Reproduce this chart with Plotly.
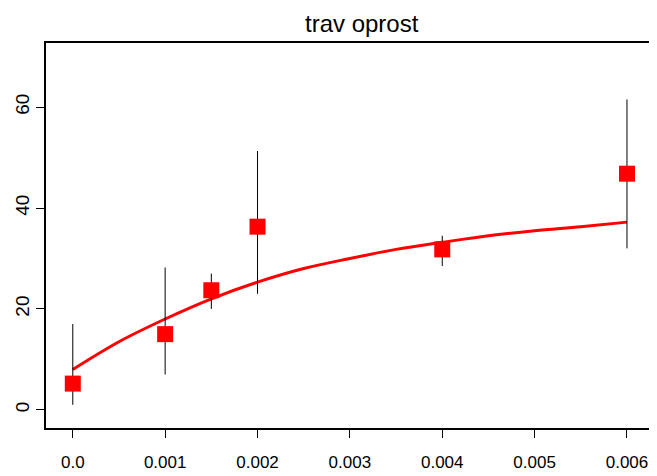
import plotly.graph_objects as go

dose = [0.0, 0.001, 0.0015, 0.002, 0.004, 0.006]
resp = [5.2, 15.0, 23.7, 36.3, 31.8, 46.8]
err_lo = [1.0, 7.0, 20.0, 23.0, 28.5, 32.0]
err_hi = [17.0, 28.2, 27.0, 51.3, 34.5, 61.5]

fit_x = [0.0, 0.0005, 0.001, 0.0015, 0.002, 0.0025, 0.003, 0.0035, 0.004, 0.0045, 0.005, 0.0055, 0.006]
fit_y = [8.0, 13.5, 18.0, 22.0, 25.3, 28.0, 30.0, 31.8, 33.2, 34.5, 35.5, 36.3, 37.2]

x_ticks = [0.0, 0.001, 0.002, 0.003, 0.004, 0.005, 0.006]
x_labels = ["0.0", "0.001", "0.002", "0.003", "0.004", "0.005", "0.006"]
y_ticks = [0, 20, 40, 60]

fig = go.Figure()
fig.add_trace(go.Scatter(x=fit_x, y=fit_y, mode="lines", line=dict(color="#ff0000", width=3, shape="spline"),
                         hoverinfo="skip"))
fig.add_trace(go.Scatter(
    x=dose, y=resp, mode="markers",
    marker=dict(symbol="square", size=16, color="#ff0000"),
    error_y=dict(type="data", symmetric=False,
                 array=[h - r for h, r in zip(err_hi, resp)],
                 arrayminus=[r - l for r, l in zip(resp, err_lo)],
                 color="black", thickness=1, width=0)))

fig.update_layout(
    width=649, height=468, showlegend=False,
    plot_bgcolor="white", paper_bgcolor="white",
    margin=dict(l=38, r=6, t=35, b=48, autoexpand=False),
    font=dict(family="Liberation Sans, Arial", size=19, color="black"),
    title=dict(text="trav oprost", x=0.545, xanchor="center", y=0.985, yanchor="top",
               font=dict(size=24)),
    xaxis=dict(range=[-0.00029, 0.00626], tickvals=x_ticks, ticktext=x_labels, automargin=False,
               ticks="outside", ticklen=8, tickcolor="black", showgrid=False, zeroline=False,
               ticklabelstandoff=10, tickfont=dict(size=17),
               showline=True, linecolor="black", linewidth=1.5, mirror=True),
    yaxis=dict(range=[-3.6, 72.7], tickvals=y_ticks, tickangle=-90, automargin=False,
               ticks="outside", ticklen=8, tickcolor="black", showgrid=False, zeroline=False,
               showline=True, linecolor="black", linewidth=1.5, mirror=True),
)
fig.write_html("out.html")
